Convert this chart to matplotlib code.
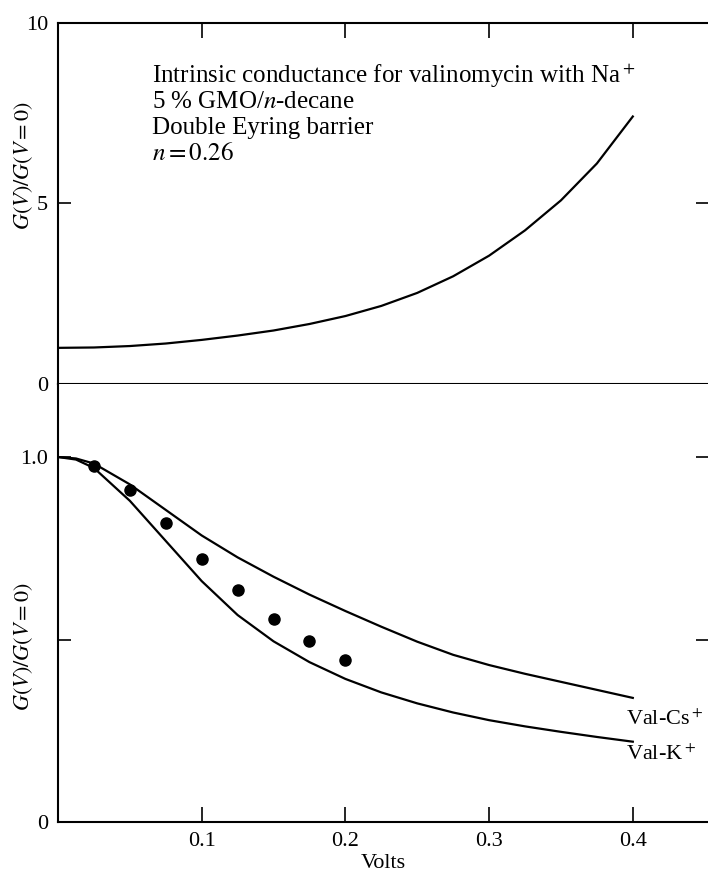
import matplotlib
matplotlib.use("Agg")
import matplotlib.pyplot as plt

# --- data ---
# top panel: intrinsic conductance, Na+ (double Eyring barrier, n = 0.26)
volts_top = [0, 0.025, 0.05, 0.075, 0.1, 0.125, 0.15, 0.175, 0.2, 0.225,
             0.25, 0.275, 0.3, 0.325, 0.35, 0.375, 0.4]
g_na = [1.0, 1.01, 1.05, 1.12, 1.22, 1.34, 1.48, 1.66, 1.88, 2.16,
        2.52, 2.98, 3.55, 4.25, 5.08, 6.1, 7.4]

# bottom panel: theory curves for Val-Cs+ and Val-K+
volts_bot = [0, 0.0125, 0.025, 0.05, 0.075, 0.1, 0.125, 0.15, 0.175, 0.2,
             0.225, 0.25, 0.275, 0.3, 0.325, 0.35, 0.375, 0.4]
g_cs = [1.0, 0.996, 0.982, 0.925, 0.855, 0.785, 0.725, 0.672, 0.623, 0.578,
        0.535, 0.494, 0.458, 0.43, 0.406, 0.384, 0.362, 0.34]
g_k = [1.0, 0.993, 0.97, 0.88, 0.77, 0.66, 0.567, 0.495, 0.438, 0.392,
       0.355, 0.325, 0.30, 0.279, 0.262, 0.247, 0.233, 0.22]

# measured points
volts_pts = [0.025, 0.05, 0.075, 0.1, 0.125, 0.15, 0.175, 0.2]
g_pts = [0.976, 0.910, 0.819, 0.720, 0.635, 0.557, 0.495, 0.443]

x_ticks = [0.1, 0.2, 0.3, 0.4]
x_labels = ["0.1", "0.2", "0.3", "0.4"]
top_yticks = [0, 5, 10]
top_ylabels = ["0", "5", "10"]
bot_yticks = [0, 0.5, 1.0]
bot_ylabels = ["0", "", "1.0"]

info_lines = [r"Intrinsic conductance for valinomycin with Na$^+$",
              r"5 % GMO/$n$-decane",
              "Double Eyring barrier",
              r"$n = 0.26$"]

plt.rcParams["font.family"] = "Liberation Serif"
plt.rcParams["mathtext.fontset"] = "stix"
plt.rcParams["font.size"] = 16

W, H = 708, 877
fig = plt.figure(figsize=(W / 100, H / 100), dpi=100)
ax1 = fig.add_axes([58 / W, 1 - 384 / H, 650 / W, (384 - 22.5) / H])
ax2 = fig.add_axes([58 / W, 1 - 822 / H, 650 / W, (822 - 384) / H])

xmax = 650 / 1437
for ax in (ax1, ax2):
    ax.set_xlim(0, xmax)
    ax.spines["right"].set_visible(False)
    for s in ("left", "top", "bottom"):
        ax.spines[s].set_linewidth(1.5)
    ax.set_xticks(x_ticks)

# top panel
ax1.plot(volts_top, g_na, color="black", lw=1.6)
ax1.set_ylim(0, 10)
ax1.set_yticks(top_yticks)
ax1.set_yticklabels(top_ylabels)
ax1.tick_params(axis="x", direction="in", top=True, bottom=False,
                labeltop=False, labelbottom=False, length=11, width=1.2)
ax1.tick_params(axis="y", direction="in", left=True, right=True,
                length=9, width=1.2, pad=7)
ax1.set_ylabel(r"$G(V)/G(V=0)$", fontsize=16)
ax1.yaxis.set_label_coords(-0.036, 0.605)
for i, line in enumerate(info_lines):
    ax1.text(0.1446, 0.834 - i * 0.0715, line, transform=ax1.transAxes,
             va="baseline", ha="left", fontsize=18)

# bottom panel
ax2.plot(volts_bot, g_cs, color="black", lw=1.6)
ax2.plot(volts_bot, g_k, color="black", lw=1.6)
ax2.plot(volts_pts, g_pts, "o", color="black", ms=8)
ax2.set_ylim(0, 1.2)
ax2.set_yticks(bot_yticks)
ax2.set_yticklabels(bot_ylabels)
ax2.set_xticklabels(x_labels)
ax2.spines["top"].set_visible(False)
ax2.tick_params(axis="x", direction="in", top=False, bottom=True,
                length=11, width=1.2, pad=7)
ax2.tick_params(axis="y", direction="in", left=True, right=True,
                length=9, width=1.2, pad=7)
ax2.set_ylabel(r"$G(V)/G(V=0)$", fontsize=16)
ax2.yaxis.set_label_coords(-0.036, 0.40)
ax2.set_xlabel("Volts", labelpad=2, fontsize=16)
ax2.text(0.874, 0.222, r"Val-Cs$^+$", transform=ax2.transAxes,
         va="baseline", fontsize=16)
ax2.text(0.874, 0.142, r"Val-K$^+$", transform=ax2.transAxes,
         va="baseline", fontsize=16)

fig.savefig("out.png", dpi=100)
